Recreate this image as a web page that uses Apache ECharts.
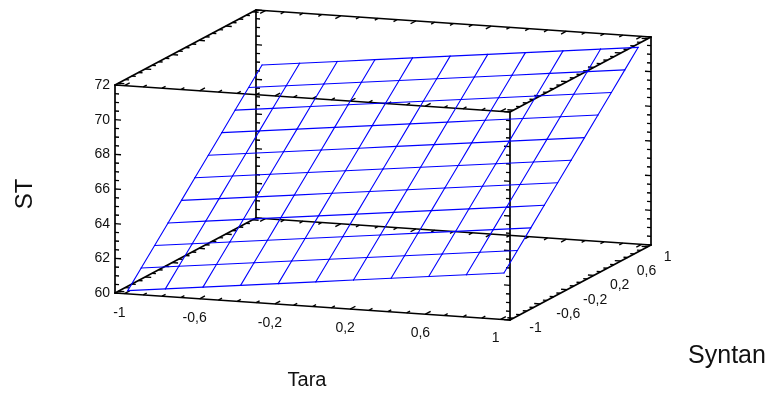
<!DOCTYPE html>
<html>
<head>
<meta charset="utf-8">
<script src="https://cdn.jsdelivr.net/npm/echarts@6/dist/echarts.min.js"></script>
<style>
  html, body { margin: 0; padding: 0; background: #ffffff; }
  #chart { width: 771px; height: 397px; }
</style>
</head>
<body>
<div id="chart"></div>
<script>
// Fitted response surface: ST as a function of Tara (columns) and Syntan (rows)
const taraValues = [-1, -0.8, -0.6, -0.4, -0.2, 0, 0.2, 0.4, 0.6, 0.8, 1];
const syntanValues = [-1, -0.8, -0.6, -0.4, -0.2, 0, 0.2, 0.4, 0.6, 0.8, 1];
const stRows = [
  [60.07, 60.32, 60.57, 60.82, 61.07, 61.32, 61.57, 61.82, 62.07, 62.32, 62.57],
  [60.96, 61.21, 61.46, 61.71, 61.96, 62.21, 62.46, 62.71, 62.96, 63.21, 63.46],
  [61.85, 62.10, 62.35, 62.60, 62.85, 63.10, 63.35, 63.60, 63.85, 64.10, 64.35],
  [62.74, 62.99, 63.24, 63.49, 63.74, 63.99, 64.24, 64.49, 64.74, 64.99, 65.24],
  [63.63, 63.88, 64.13, 64.38, 64.63, 64.88, 65.13, 65.38, 65.63, 65.88, 66.13],
  [64.52, 64.77, 65.02, 65.27, 65.52, 65.77, 66.02, 66.27, 66.52, 66.77, 67.02],
  [65.41, 65.66, 65.91, 66.16, 66.41, 66.66, 66.91, 67.16, 67.41, 67.66, 67.91],
  [66.30, 66.55, 66.80, 67.05, 67.30, 67.55, 67.80, 68.05, 68.30, 68.55, 68.80],
  [67.19, 67.44, 67.69, 67.94, 68.19, 68.44, 68.69, 68.94, 69.19, 69.44, 69.69],
  [68.08, 68.33, 68.58, 68.83, 69.08, 69.33, 69.58, 69.83, 70.08, 70.33, 70.58],
  [68.97, 69.22, 69.47, 69.72, 69.97, 70.22, 70.47, 70.72, 70.97, 71.22, 71.47]
];

// Axis ticks and their labels
const taraTicks = [-1, -0.6, -0.2, 0.2, 0.6, 1];
const taraTickLabels = ['-1', '-0,6', '-0,2', '0,2', '0,6', '1'];
const syntanTicks = [-1, -0.6, -0.2, 0.2, 0.6, 1];
const syntanTickLabels = ['-1', '-0,6', '-0,2', '0,2', '0,6', '1'];
const stTicks = [60, 62, 64, 66, 68, 70, 72];
const stTickLabels = ['60', '62', '64', '66', '68', '70', '72'];

// Box extents in data units
const T_RANGE = [-1.05, 1.05];
const S_RANGE = [-1.05, 1.05];
const Z_RANGE = [60, 72];

// Oblique projection of the box onto the page plane
const VIEW = { ox: 115, oy: 293, tx: 395, ty: 27, sx: 141, sy: -75, zy: -208 };

function project(t, s, z) {
  const a = (t - T_RANGE[0]) / (T_RANGE[1] - T_RANGE[0]);
  const b = (s - S_RANGE[0]) / (S_RANGE[1] - S_RANGE[0]);
  const c = (z - Z_RANGE[0]) / (Z_RANGE[1] - Z_RANGE[0]);
  return [VIEW.ox + a * VIEW.tx + b * VIEW.sx, VIEW.oy + a * VIEW.ty + b * VIEW.sy + c * VIEW.zy];
}
function unit(x, y) { const l = Math.hypot(x, y); return [x / l, y / l]; }
const DIR = [unit(VIEW.tx, VIEW.ty), unit(VIEW.sx, VIEW.sy)];

// Surface mesh segments [t1, s1, z1, t2, s2, z2]
const meshSegments = [];
for (let i = 0; i < syntanValues.length; i++) {
  for (let j = 0; j < taraValues.length; j++) {
    if (j + 1 < taraValues.length) {
      meshSegments.push([taraValues[j], syntanValues[i], stRows[i][j], taraValues[j + 1], syntanValues[i], stRows[i][j + 1]]);
    }
    if (i + 1 < syntanValues.length) {
      meshSegments.push([taraValues[j], syntanValues[i], stRows[i][j], taraValues[j], syntanValues[i + 1], stRows[i + 1][j]]);
    }
  }
}

// Box edges
const T0 = T_RANGE[0], T1 = T_RANGE[1], S0 = S_RANGE[0], S1 = S_RANGE[1], Z0 = Z_RANGE[0], Z1 = Z_RANGE[1];
const boxEdges = [
  [T0, S0, Z0, T1, S0, Z0], [T0, S1, Z0, T1, S1, Z0], [T0, S0, Z1, T1, S0, Z1], [T0, S1, Z1, T1, S1, Z1],
  [T0, S0, Z0, T0, S1, Z0], [T1, S0, Z0, T1, S1, Z0], [T0, S0, Z1, T0, S1, Z1], [T1, S0, Z1, T1, S1, Z1],
  [T0, S0, Z0, T0, S0, Z1], [T1, S0, Z0, T1, S0, Z1], [T0, S1, Z0, T0, S1, Z1], [T1, S1, Z0, T1, S1, Z1]
];

// Tick marks [t, s, z, directionAxis (0 = Tara, 1 = Syntan), sign, length]
function isMajor(v, list) { return list.some(m => Math.abs(m - v) < 1e-6); }
const tickMarks = [];
for (let k = -10; k <= 10; k++) {
  const v = k / 10;
  const lenT = isMajor(v, taraTicks) ? 6 : 4;
  const lenS = isMajor(v, syntanTicks) ? 6 : 4;
  [[S0, Z0, 1], [S1, Z0, -1], [S0, Z1, 1], [S1, Z1, -1]].forEach(e => tickMarks.push([v, e[0], e[1], 1, e[2], lenT]));
  [[T0, Z0, 1], [T1, Z0, -1], [T0, Z1, 1], [T1, Z1, -1]].forEach(e => tickMarks.push([e[0], v, e[1], 0, e[2], lenS]));
}
for (let z = Z0; z <= Z1 + 1e-6; z += 0.5) {
  const len = isMajor(z, stTicks) ? 6 : 4;
  [[T0, S0, 1], [T1, S0, -1], [T0, S1, 1], [T1, S1, -1]].forEach(e => tickMarks.push([e[0], e[1], z, 0, e[2], len]));
}

const FONT = 'Liberation Sans, Arial, sans-serif';
const LABEL_FONT = { fontSize: 14, fontFamily: FONT, fill: '#111' };

function segmentRenderer(color, width) {
  return function (params, api) {
    const p1 = api.coord(project(api.value(0), api.value(1), api.value(2)));
    const p2 = api.coord(project(api.value(3), api.value(4), api.value(5)));
    return {
      type: 'line',
      shape: { x1: p1[0], y1: p1[1], x2: p2[0], y2: p2[1] },
      style: { stroke: color, lineWidth: width, lineCap: 'round' }
    };
  };
}

function tickRenderer(params, api) {
  const p = project(api.value(0), api.value(1), api.value(2));
  const d = DIR[api.value(3)];
  const sgn = api.value(4), len = api.value(5);
  const p1 = api.coord(p);
  const p2 = api.coord([p[0] + d[0] * sgn * len, p[1] + d[1] * sgn * len]);
  return {
    type: 'line',
    shape: { x1: p1[0], y1: p1[1], x2: p2[0], y2: p2[1] },
    style: { stroke: '#000', lineWidth: 1.4 }
  };
}

function labelRenderer(texts, dx, dy, align) {
  return function (params, api) {
    const p = api.coord(project(api.value(0), api.value(1), api.value(2)));
    return {
      type: 'text',
      x: p[0] + dx, y: p[1] + dy,
      style: Object.assign({ text: texts[params.dataIndex], align: align, verticalAlign: 'middle' }, LABEL_FONT)
    };
  };
}

const chart = echarts.init(document.getElementById('chart'), null, { renderer: 'canvas' });
chart.setOption({
  backgroundColor: '#ffffff',
  animation: false,
  grid: { left: 0, right: 0, top: 0, bottom: 0 },
  xAxis: { type: 'value', min: 0, max: 771, show: false },
  yAxis: { type: 'value', min: 0, max: 397, inverse: true, show: false },
  series: [
    { type: 'custom', name: 'box', data: boxEdges, renderItem: segmentRenderer('#000', 1.7), z: 2 },
    { type: 'custom', name: 'ticks', data: tickMarks, renderItem: tickRenderer, z: 2 },
    { type: 'custom', name: 'ST surface', data: meshSegments, renderItem: segmentRenderer('#0000ff', 1.1), z: 3 },
    { type: 'custom', name: 'ST labels', data: stTicks.map(z => [T0, S0, z]),
      renderItem: labelRenderer(stTickLabels, -5, 0, 'right'), z: 4 },
    { type: 'custom', name: 'Tara labels', data: taraTicks.map(t => [t, S0, Z0]),
      renderItem: labelRenderer(taraTickLabels, -5, 19, 'center'), z: 4 },
    { type: 'custom', name: 'Syntan labels', data: syntanTicks.map(s => [T1, s, Z0]),
      renderItem: labelRenderer(syntanTickLabels, 16, 10, 'left'), z: 4 }
  ],
  graphic: [
    { type: 'text', x: 25, y: 194, rotation: Math.PI / 2, z: 10,
      style: { text: 'ST', fontSize: 24, fontFamily: FONT, fill: '#111', align: 'center', verticalAlign: 'middle' } },
    { type: 'text', x: 307, y: 380, z: 10,
      style: { text: 'Tara', fontSize: 20, fontFamily: FONT, fill: '#111', align: 'center', verticalAlign: 'middle' } },
    { type: 'text', x: 727, y: 356, z: 10,
      style: { text: 'Syntan', fontSize: 25, fontFamily: FONT, fill: '#111', align: 'center', verticalAlign: 'middle' } }
  ]
});
</script>
</body>
</html>
